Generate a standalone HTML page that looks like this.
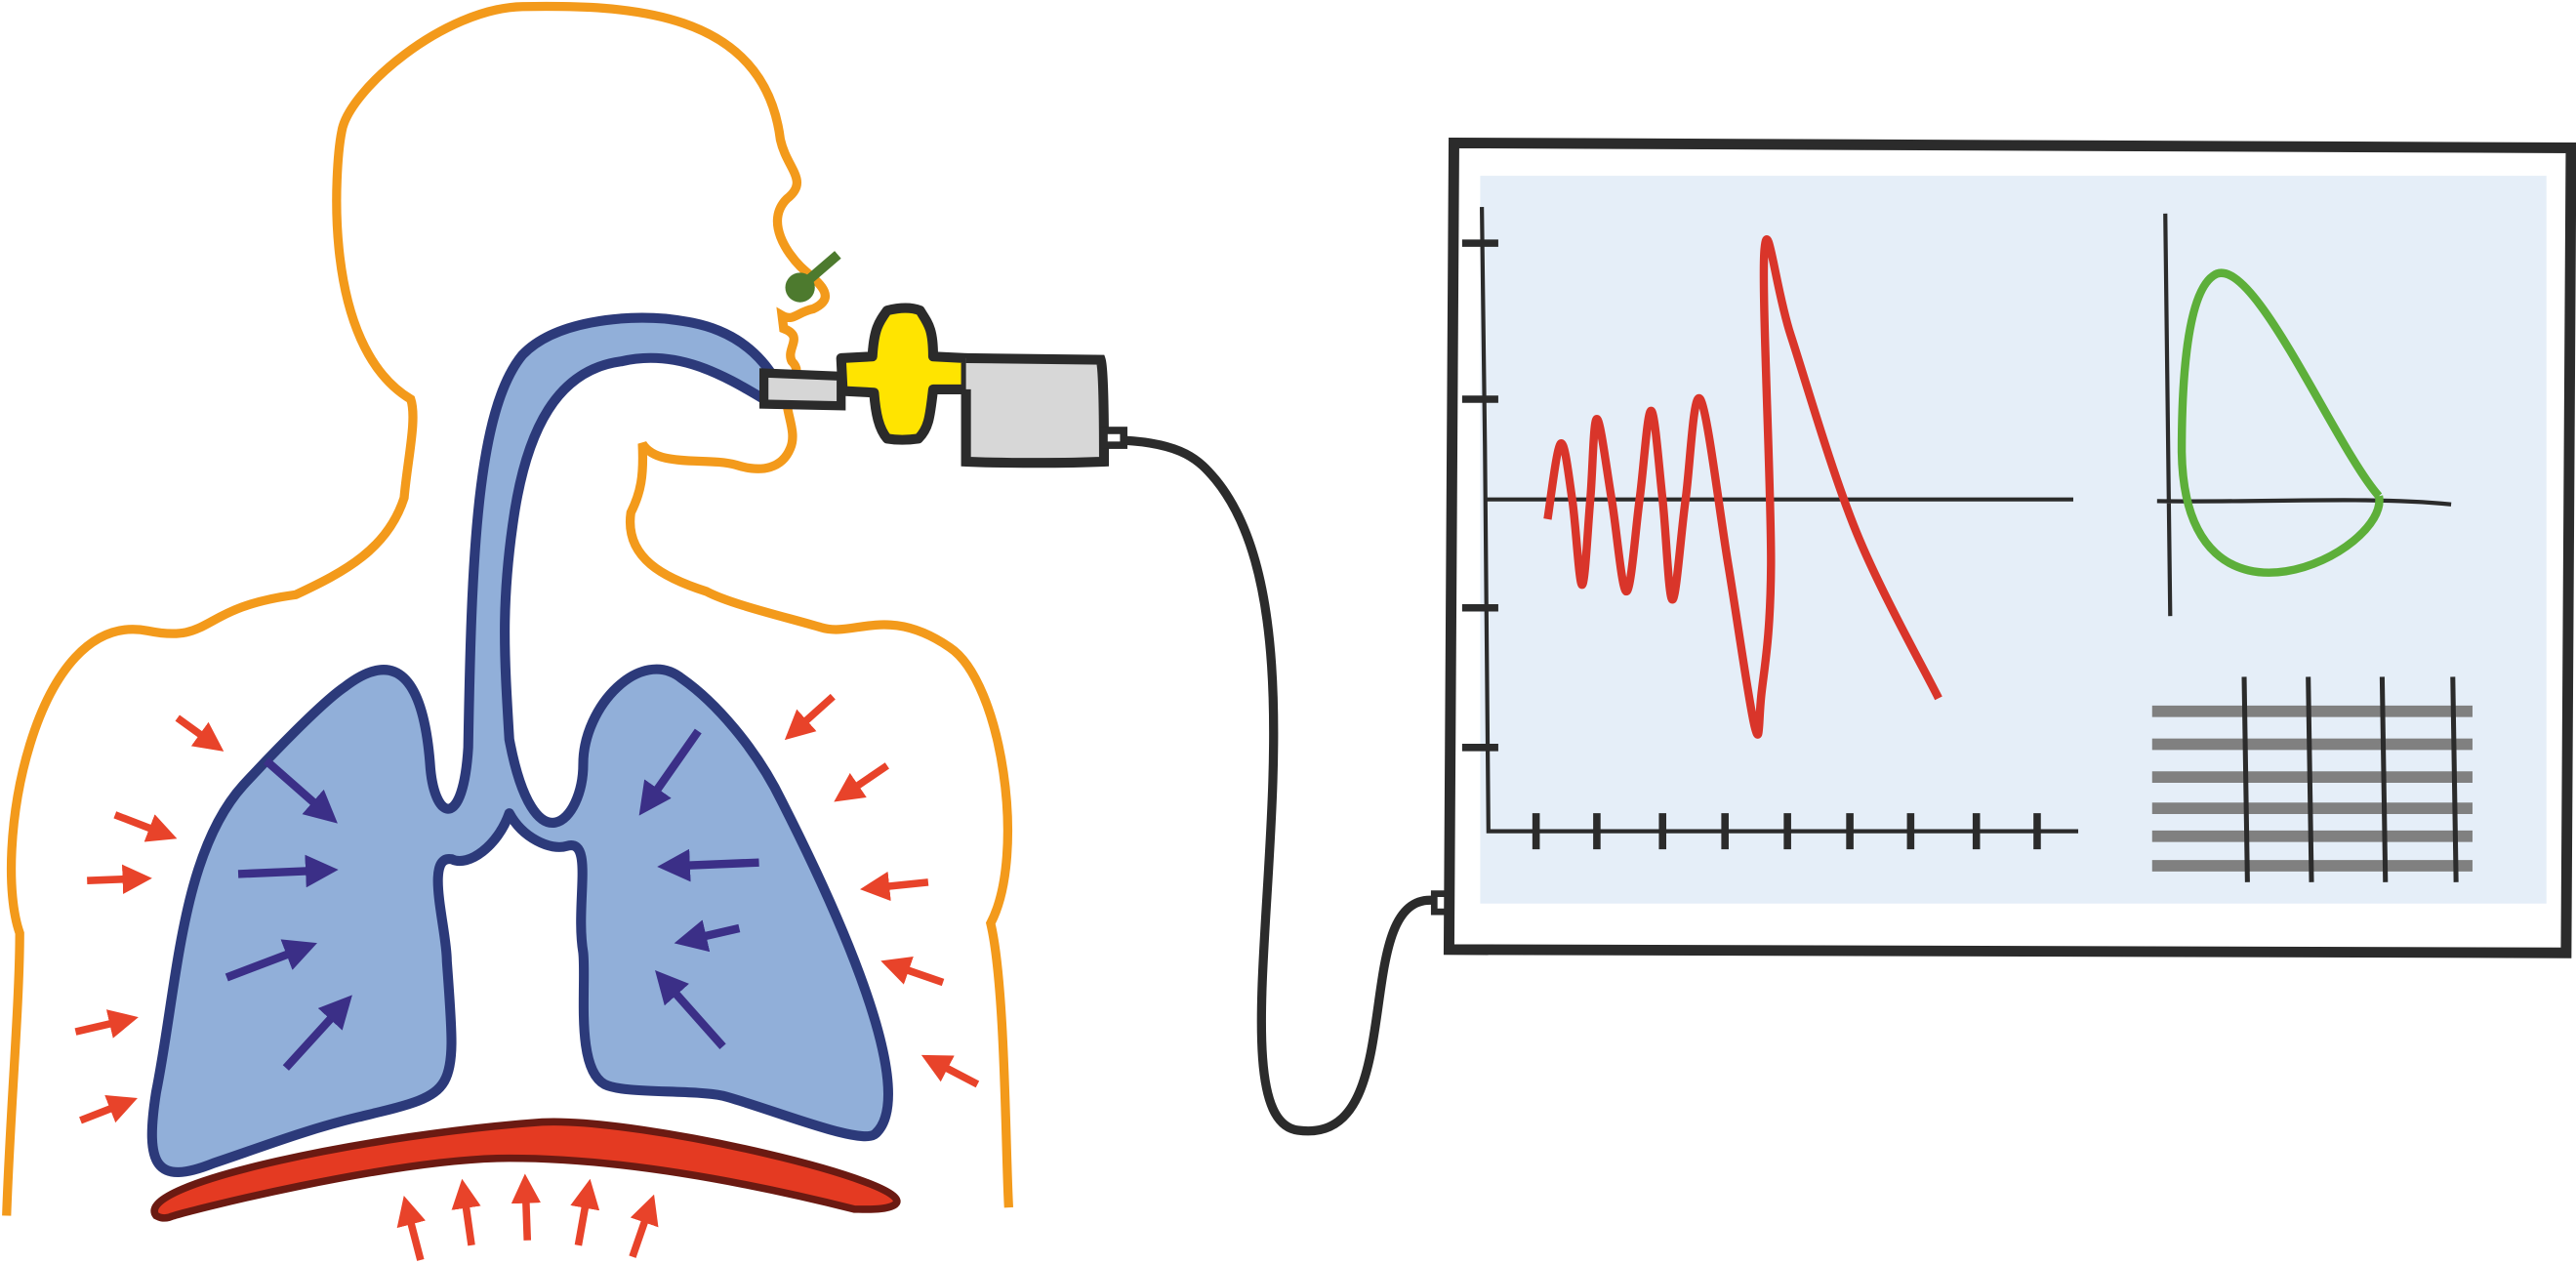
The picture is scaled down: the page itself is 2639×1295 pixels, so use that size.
<!DOCTYPE html>
<html><head><meta charset="utf-8"><style>
html,body{margin:0;padding:0;background:#fff;}
svg{display:block;}
</style></head><body>
<svg width="2639" height="1295" viewBox="0 0 1568 769.4" preserveAspectRatio="none" xmlns="http://www.w3.org/2000/svg">
<defs>
<marker id="ar" viewBox="0 0 10 10" refX="3" refY="5" markerWidth="4" markerHeight="4" orient="auto" markerUnits="strokeWidth"><path d="M0,0 L10,5 L0,10 z" fill="#e8432a"/></marker>
<marker id="ap" viewBox="0 0 10 10" refX="3" refY="5" markerWidth="4" markerHeight="4" orient="auto" markerUnits="strokeWidth"><path d="M0,0 L10,5 L0,10 z" fill="#3b2f87"/></marker>
</defs>
<rect width="1568" height="770" fill="#fff"/>
<path fill="none" stroke="#f39a1b" stroke-width="5.5" d="M4,740 C6,680 12,610 12,568 C-5,520 20,370 90,384 C130,392 120,370 180,362 C210,348 236,334 246,303 C248,280 254,255 250,243 C195,210 204,100 208,80 C212,55 270,5 318,4 C380,3 465,5 475,85 C479,103 493,110 479,121 C465,135 480,155 487,162 C495,170 512,180 495,188 C485,190 483,196 476,192 L477,200 C490,205 478,212 482,220 C490,228 478,232 480,240 C476,248 486,262 481,273 C476,285 464,288 448,283 C430,278 400,285 391,270 C392,290 390,300 384,312 C380,340 405,352 430,360 C445,368 480,376 500,382 C520,388 540,368 578,394 C610,415 625,520 603,562 C612,600 612,700 614,735"/>
<path fill="#91afd9" stroke="#2c3a7a" stroke-width="6" stroke-linejoin="round" d="M262,468 C258,410 240,395 210,418 C195,428 160,465 148,478 C110,520 108,600 95,665 C88,710 95,722 130,708 C160,698 185,688 218,680 C280,665 278,668 272,585 C272,565 258,520 275,523 C285,528 303,515 310,495 C318,510 335,518 345,515 C362,510 350,550 355,580 C357,600 350,650 368,660 C380,666 420,663 440,667 C470,675 525,698 533,690 C560,665 510,555 476,488 C460,455 435,427 415,413 C390,393 355,430 355,465 C355,500 325,530 310,450 C307,400 305,370 312,320 C320,260 340,225 378,220 C412,212 440,228 465,243 L470,228 C450,198 420,196 405,194 C380,192 338,195 318,216 C290,250 287,340 285,455 C282,505 265,500 262,468 Z"/>
<path fill="#d6d6d6" stroke="#2b2b2b" stroke-width="5.5" d="M465,227 L512,229 L512,247 L465,246 Z"/>
<path fill="#ffe400" stroke="#2b2b2b" stroke-width="6" stroke-linejoin="round" d="M512,218 L531,217 C532,200 535,196 540,189 C548,187 555,187 560,189 C565,197 568,200 568,217 L588,218 L588,237 L568,237 C566,255 565,261 559,267 C552,268 546,268 540,267 C535,261 533,252 532,239 L513,238 Z"/>
<path fill="#d7d7d7" stroke="#2b2b2b" stroke-width="6" d="M588,218 L670,219 C672,225 672,270 672,281 C650,282 610,282 588,281 L588,237"/>
<rect x="672" y="262" width="12" height="9" fill="#fff" stroke="#2b2b2b" stroke-width="4.5"/>
<path fill="none" stroke="#2b2b2b" stroke-width="5.5" d="M684,268 C720,270 730,280 740,292 C820,390 730,680 790,688 C860,698 820,545 872,548 L884,549"/>
<rect x="873" y="544" width="10" height="11" fill="#fff" stroke="#2b2b2b" stroke-width="4"/>
<line x1="488" y1="174" x2="510" y2="155" stroke="#4d7a2e" stroke-width="6"/>
<circle cx="487" cy="175" r="9" fill="#4d7a2e"/>
<path fill="#e43a22" stroke="#6b1a12" stroke-width="4.5" d="M95,740 C80,720 230,690 330,683 C390,680 560,720 545,733 C540,737 525,736 520,736 C440,716 370,705 310,705 C240,705 110,738 103,741 C99,742 97,741 95,740 Z"/>
<g stroke="#e8432a" stroke-width="4.5" marker-end="url(#ar)" fill="none">
<line x1="108" y1="437" x2="126" y2="450"/><line x1="70" y1="496" x2="96" y2="506"/><line x1="53" y1="536" x2="80" y2="535"/><line x1="46" y1="628" x2="72" y2="622"/><line x1="49" y1="682" x2="72" y2="673"/>
<line x1="507" y1="424" x2="487" y2="442"/><line x1="540" y1="466" x2="518" y2="481"/><line x1="565" y1="537" x2="536" y2="540"/><line x1="574" y1="598" x2="548" y2="589"/><line x1="595" y1="660" x2="572" y2="648"/>
<line x1="256" y1="767" x2="249" y2="740"/><line x1="287" y1="758" x2="283" y2="730"/><line x1="321" y1="755" x2="320" y2="727"/><line x1="352" y1="758" x2="357" y2="730"/><line x1="385" y1="765" x2="394" y2="739"/>
</g>
<g stroke="#3b2f87" stroke-width="5" marker-end="url(#ap)" fill="none">
<line x1="162" y1="463" x2="195" y2="492"/><line x1="145" y1="532" x2="192" y2="530"/><line x1="138" y1="595" x2="180" y2="579"/><line x1="174" y1="650" x2="205" y2="616"/>
<line x1="425" y1="445" x2="397" y2="485"/><line x1="462" y1="525" x2="414" y2="527"/><line x1="450" y1="565" x2="424" y2="571"/><line x1="440" y1="637" x2="408" y2="601"/>
</g>
<polygon points="885,87 1565,90 1562,580 882,578" fill="#fff" stroke="#2b2b2b" stroke-width="6.5"/>
<rect x="901" y="107" width="649" height="443" fill="#e5eef8"/>
<g id="charts"></g>
</svg>
<script>
var waveT = [942,950,957,963,968,972,981,990,998,1005,1012,1018,1026,1035,1052,1068,1072,1078,1074,1090,1130,1180];
var waveV = [-12,34,0,-52,0,49,0,-56,0,54,0,-61,0,61,-40,-138,-120,-40,152,100,-20,-121];
var vTicks = [148,243,370,455];
var hTicks = [935,972,1012,1050,1088,1126,1163,1203,1240];
var barRows = [433,453,473,492,509,527];
var barCols = [1366,1405,1450,1493];
var NS='http://www.w3.org/2000/svg';
var g=document.getElementById('charts');
function mk(t,a){var e=document.createElementNS(NS,t);for(var k in a)e.setAttribute(k,a[k]);g.appendChild(e);return e;}
var base=304;
function ly(v){return base-v;}
var ax=mk('path',{d:'M902,126 C904,250 905,400 906,506 L1265,506 M905,304 L1262,304',fill:'none',stroke:'#2b2b2b','stroke-width':2.5});


vTicks.forEach(function(y){var t=mk('line',{x1:890,y1:y,x2:912,y2:y,stroke:'#2b2b2b','stroke-width':4.5});

});
hTicks.forEach(function(x){var t=mk('line',{x1:x,y1:495,x2:x,y2:517,stroke:'#2b2b2b','stroke-width':4.5});

});
var pts=waveT.map(function(t,i){return [t,ly(waveV[i])];});
var d='M'+pts[0][0]+','+pts[0][1];
for(var i=0;i<pts.length-1;i++){var p0=pts[i-1]||pts[i],p1=pts[i],p2=pts[i+1],p3=pts[i+2]||p2;
d+=' C'+(p1[0]+(p2[0]-p0[0])/6)+','+(p1[1]+(p2[1]-p0[1])/6)+' '+(p2[0]-(p3[0]-p1[0])/6)+','+(p2[1]-(p3[1]-p1[1])/6)+' '+p2[0]+','+p2[1];}
var w=mk('path',{d:d,fill:'none',stroke:'#d9352a','stroke-width':5});


var la=mk('path',{d:'M1318,130 C1320,250 1320,330 1321,375 M1313,305 C1380,306 1440,302 1492,307',fill:'none',stroke:'#2b2b2b','stroke-width':2.5});


var lp=mk('path',{d:'M1448,302 C1420,270 1370,150 1347,168 C1330,180 1328,240 1328,275 C1330,400 1455,335 1448,302',fill:'none',stroke:'#5daf3a','stroke-width':5});


barRows.forEach(function(y){var b=mk('line',{x1:1310,y1:y,x2:1505,y2:y,stroke:'#808080','stroke-width':7});

});
barCols.forEach(function(x){var c=mk('line',{x1:x,y1:412,x2:x+2,y2:537,stroke:'#2b2b2b','stroke-width':3});

});
</script>
</body></html>
